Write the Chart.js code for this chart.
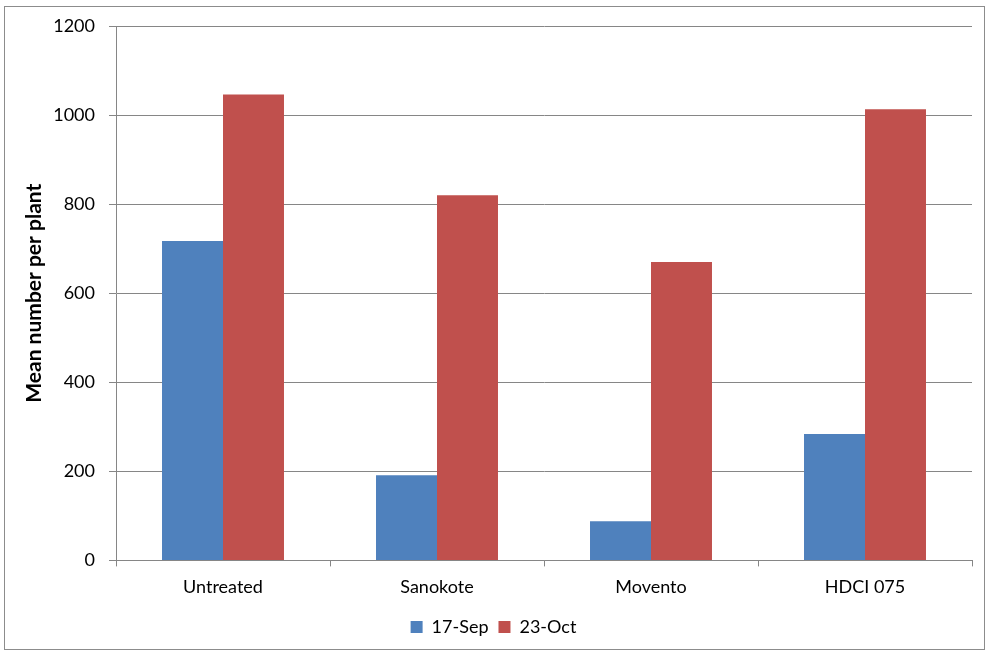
<!DOCTYPE html>
<html>
<head>
<meta charset="utf-8">
<script src="https://cdn.jsdelivr.net/npm/chart.js@4/dist/chart.umd.min.js"></script>
<style>
  html, body { margin: 0; padding: 0; background: #fff; }
  #wrap {
    position: absolute; left: 4px; top: 6px;
    width: 979px; height: 642px;
    border: 1px solid #8c8c8c;
  }
</style>
</head>
<body>
<div id="wrap"><canvas id="chart"></canvas></div>
<script>
// Datos
const categories = ['Untreated', 'Sanokote', 'Movento', 'HDCI 075'];
const sep17 = [717, 191, 88, 284];
const oct23 = [1046, 820, 670, 1013];
const seriesNames = ['17-Sep', '23-Oct'];

const FONT = 'Lato, "Open Sans", sans-serif';

const ctx = document.getElementById('chart').getContext('2d');
new Chart(ctx, {
    type: 'bar',
    data: {
        labels: categories,
        datasets: [
            { label: seriesNames[0], data: sep17, backgroundColor: '#4F81BD' },
            { label: seriesNames[1], data: oct23, backgroundColor: '#C0504D' }
        ]
    },
    options: {
        responsive: true,
        maintainAspectRatio: false,
        animation: false,
        categoryPercentage: 0.57,
        barPercentage: 1.0,
        layout: { padding: { top: 19, right: 12, left: 10, bottom: 3 } },
        plugins: {
            legend: {
                position: 'bottom',
                labels: {
                    boxWidth: 12, boxHeight: 12,
                    font: { family: FONT, size: 18 },
                    color: '#000',
                    padding: 10
                }
            },
            tooltip: { enabled: false }
        },
        scales: {
            x: {
                grid: { offset: true, drawOnChartArea: false, drawTicks: true, tickLength: 6, color: '#868686' },
                border: { color: '#868686' },
                ticks: { font: { family: FONT, size: 18 }, color: '#000', padding: 10 }
            },
            y: {
                min: 0, max: 1200,
                // ancho fijo del eje para alinear titulo y etiquetas
                afterFit: s => { s.width = 101; s.paddingTop = 0; s.paddingBottom = 0; },
                ticks: {
                    stepSize: 200,
                    font: { family: FONT, size: 18 }, color: '#000', padding: 14,
                    callback: v => String(v)
                },
                grid: { color: '#868686', tickLength: 7 },
                border: { color: '#868686' },
                title: {
                    display: true, text: 'Mean number per plant',
                    font: { family: FONT, size: 21, weight: 'bold' }, color: '#000',
                    padding: { top: 7, bottom: 0 }
                }
            }
        }
    }
});
</script>
</body>
</html>
